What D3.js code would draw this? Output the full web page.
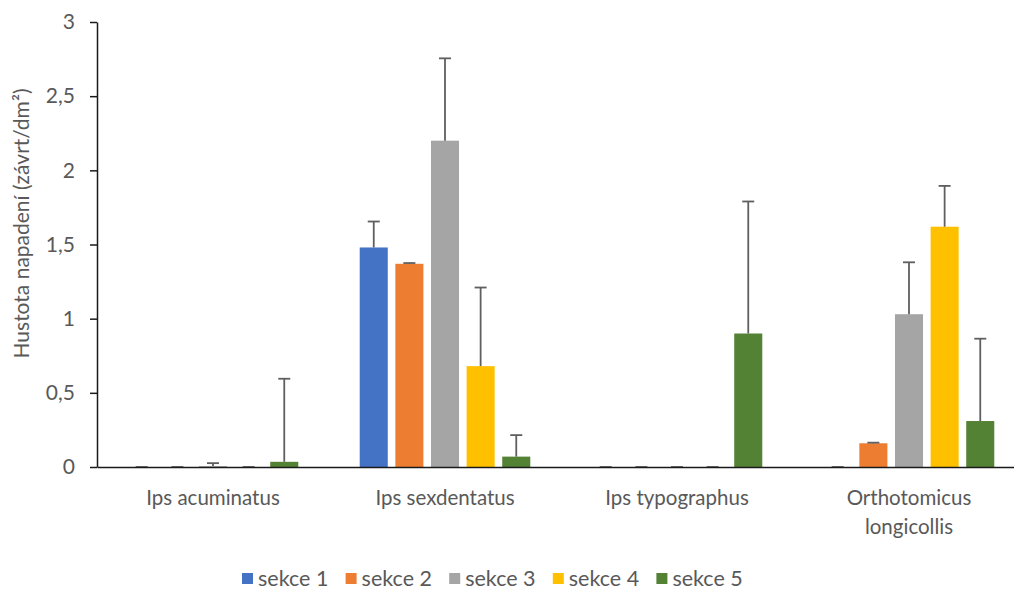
<!DOCTYPE html>
<html>
<head>
<meta charset="utf-8">
<script src="https://cdn.jsdelivr.net/npm/d3@7"></script>
<style>
  html, body { margin: 0; padding: 0; background: #ffffff; }
  svg { display: block; font-family: Lato, "Open Sans", sans-serif; }
</style>
</head>
<body>
<svg id="chart" width="1014" height="590"></svg>
<script>
// Categories (beetle species) and the five sections
const categories = ["Ips acuminatus", "Ips sexdentatus", "Ips typographus", "Orthotomicus longicollis"];
const seriesNames = ["sekce 1", "sekce 2", "sekce 3", "sekce 4", "sekce 5"];
const seriesColors = ["#4472C4", "#ED7D31", "#A5A5A5", "#FFC000", "#548235"];

// Mean attack density per section (závrt/dm²)
const sekce1 = [0, 1.48, 0, 0];
const sekce2 = [0, 1.37, 0, 0.16];
const sekce3 = [0.006, 2.2, 0, 1.03];
const sekce4 = [0, 0.68, 0, 1.62];
const sekce5 = [0.035, 0.07, 0.9, 0.31];

// Upper error (standard deviation) per section
const err1 = [0, 0.175, 0, 0];
const err2 = [0, 0.005, 0, 0.004];
const err3 = [0.02, 0.555, 0, 0.35];
const err4 = [0, 0.53, 0, 0.275];
const err5 = [0.56, 0.145, 0.89, 0.555];

const yTicks = [0, 0.5, 1, 1.5, 2, 2.5, 3];
const yTitle = "Hustota napadení (závrt/dm²)";

const values = [sekce1, sekce2, sekce3, sekce4, sekce5];
const errors = [err1, err2, err3, err4, err5];

const rows = [];
seriesNames.forEach((s, si) => {
  categories.forEach((c, ci) => {
    rows.push({ series: s, si, category: c, value: values[si][ci], err: errors[si][ci] });
  });
});

const svg = d3.select("#chart");
const plotLeft = 97, plotRight = 1025, plotTop = 22, plotBottom = 467;
const textColor = "#595959";

const x = d3.scaleBand().domain(categories).range([plotLeft, plotRight]).paddingInner(0).paddingOuter(0);
// Cluster layout: gap between clusters 219% of a bar, gap between bars 27% of a bar
const barW = x.bandwidth() / 8.27;
const clusterW = 6.08 * barW;
const xs = d3.scaleBand().domain(seriesNames).range([0, clusterW])
  .paddingInner(0.27 / 1.27).paddingOuter(0);
const clusterOffset = (x.bandwidth() - clusterW) / 2;

const y = d3.scaleLinear().domain([0, 3]).range([plotBottom, plotTop]);

// Bars
svg.append("g").selectAll("rect").data(rows).join("rect")
  .attr("x", d => x(d.category) + clusterOffset + xs(d.series))
  .attr("y", d => y(d.value))
  .attr("width", xs.bandwidth())
  .attr("height", d => y(0) - y(d.value))
  .attr("fill", d => seriesColors[d.si]);

// Error bars (plus direction)
const eb = svg.append("g").attr("stroke", "#5f5f5f").attr("stroke-width", 1.8);
rows.forEach(d => {
  const cx = x(d.category) + clusterOffset + xs(d.series) + xs.bandwidth() / 2;
  const y0 = y(d.value), y1 = y(d.value + d.err);
  eb.append("line").attr("x1", cx).attr("x2", cx).attr("y1", y0).attr("y2", y1);
  eb.append("line").attr("x1", cx - 6).attr("x2", cx + 6).attr("y1", y1).attr("y2", y1);
});

// Y axis
const yAxis = d3.axisLeft(y).tickValues(yTicks).tickSize(7).tickSizeOuter(0).tickPadding(15)
  .tickFormat(d => String(d).replace(".", ","));
const gy = svg.append("g").attr("transform", `translate(${plotLeft},0)`).call(yAxis);
gy.select(".domain").attr("stroke", "#1a1a1a").attr("stroke-width", 1.5);
gy.selectAll(".tick line").attr("stroke", "#1a1a1a").attr("stroke-width", 1.5);
gy.selectAll(".tick text").attr("fill", textColor).style("font-size", "21px")
  .style("font-family", "Lato, sans-serif");

// X axis
const xAxis = d3.axisBottom(x).tickSize(0).tickSizeOuter(0).tickPadding(0).tickFormat("");
const gx = svg.append("g").attr("transform", `translate(0,${plotBottom})`).call(xAxis);
gx.select(".domain").attr("stroke", "#1a1a1a").attr("stroke-width", 1.5);

// Category labels, wrapped to the band width
const labelG = svg.append("g").attr("fill", textColor)
  .style("font-size", "20.5px").attr("text-anchor", "middle");
categories.forEach(c => {
  const cx = x(c) + x.bandwidth() / 2;
  const t = labelG.append("text").attr("x", cx).attr("y", 505);
  const words = c.split(" ");
  let line = [];
  let tspan = t.append("tspan").attr("x", cx).attr("dy", 0);
  words.forEach(w => {
    line.push(w);
    tspan.text(line.join(" "));
    if (tspan.node().getComputedTextLength() > x.bandwidth() * 0.8 && line.length > 1) {
      line.pop();
      tspan.text(line.join(" "));
      line = [w];
      tspan = t.append("tspan").attr("x", cx).attr("dy", 29).text(w);
    }
  });
});

// Y axis title
svg.append("text")
  .attr("transform", `translate(29,${(plotTop + plotBottom) / 2 - 21}) rotate(-90)`)
  .attr("text-anchor", "middle").attr("fill", textColor)
  .style("font-size", "21px").text(yTitle);

// Legend
const legend = svg.append("g").selectAll("g").data(seriesNames).join("g")
  .attr("transform", (d, i) => `translate(${242 + i * 103.6},573)`);
legend.append("rect").attr("width", 11).attr("height", 11)
  .attr("fill", (d, i) => seriesColors[i]);
legend.append("text").attr("x", 16).attr("y", 12.5).attr("fill", textColor)
  .style("font-size", "21.5px").text(d => d);
</script>
</body>
</html>
